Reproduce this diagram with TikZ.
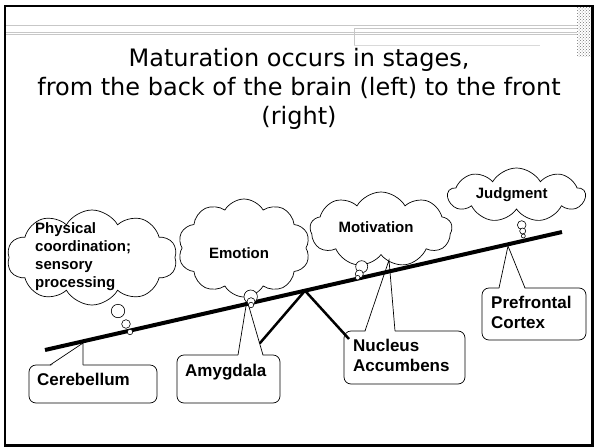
\documentclass[tikz,border=0pt]{standalone}
\usepackage{fontspec}
\setmainfont{Liberation Sans}
\newfontfamily\titlefont{DejaVu Sans}
\usetikzlibrary{shapes.symbols,patterns}

\tikzset{
  thought/.style={cloud, draw, cloud puffs=10, cloud puff arc=120, cloud ignores aspect,
    inner sep=0pt, line width=0.7pt},
  bubble/.style={circle, draw, fill=white, inner sep=0pt, line width=0.6pt},
  calloutbox/.style={draw, rounded corners=7pt, fill=white, line width=0.7pt, inner sep=0pt},
  cloudtext/.style={font=\bfseries\fontsize{15}{18}\selectfont, inner sep=0pt, align=left},
  labeltext/.style={font=\bfseries\fontsize{17}{20}\selectfont, inner sep=0pt, align=left},
  beam/.style={line width=4pt},
  leg/.style={line width=2.5pt},
  pointer/.style={line width=0.7pt},
  deco/.style={draw=black!22, line width=0.8pt}
}

\begin{document}
\begin{tikzpicture}[x=1pt,y=-1pt]
\useasboundingbox (0,0) rectangle (594,447);

% slide template trim
\draw[deco] (6,25) -- (577,25);
\draw[deco] (6,32) -- (577,32);
\draw[deco] (6,34.5) -- (577,34.5);
\draw[deco] (354,45) -- (354,28) -- (577,28);
\draw[draw=black!15, line width=0.8pt] (354,45) -- (540,45);
\fill[pattern=crosshatch dots, pattern color=black!55] (577,7) rectangle (592,56);

% slide frame
\draw[line width=2.2pt] (5,6) rectangle (592.5,445.5);

% title
\node[font=\titlefont\fontsize{24}{29}\selectfont, align=center, inner sep=0pt, anchor=north]
  (title) at (299,48.5)
  {Maturation occurs in stages,\\from the back of the brain (left) to the front\\(right)};

% pivot of the see-saw
\coordinate (pivot) at (305,290.7);
\coordinate (footL) at (259.7,343.4);
\coordinate (footR) at (349,339);

% callout: Cerebellum
\node[calloutbox, minimum width=128pt, minimum height=38pt] (cerebBox) at (93,384) {};
\coordinate (cerebTip) at (83,343);
\coordinate (cerebL) at (50,365);
\coordinate (cerebR) at (83,365);
\fill[white] (cerebTip) -- ([yshift=-1.5pt]cerebL) -- ([yshift=-1.5pt]cerebR) -- cycle;
\draw[pointer] (cerebL) -- (cerebTip) -- (cerebR);
\node[labeltext, anchor=base west] (cerebText) at (37,385.5) {Cerebellum};

% callout: Amygdala
\node[calloutbox, minimum width=103pt, minimum height=48pt] (amygBox) at (228.5,379) {};
\coordinate (amygTip) at (247,300);
\coordinate (amygL) at (238,355);
\coordinate (amygR) at (263,355);
\fill[white] (amygTip) -- ([yshift=-1.5pt]amygL) -- ([yshift=-1.5pt]amygR) -- cycle;
\draw[pointer] (amygL) -- (amygTip) -- (amygR);
\node[labeltext, anchor=base west] (amygText) at (185,376) {Amygdala};

% callout: Nucleus Accumbens
\node[calloutbox, minimum width=121pt, minimum height=53pt] (nuclBox) at (404.5,357.5) {};
\coordinate (nuclTip) at (389,260);
\coordinate (nuclL) at (365,331);
\coordinate (nuclR) at (395,331);
\fill[white] (nuclTip) -- ([yshift=-1.5pt]nuclL) -- ([yshift=-1.5pt]nuclR) -- cycle;
\draw[pointer] (nuclL) -- (nuclTip) -- (nuclR);
\node[labeltext, anchor=north west] (nuclText) at (353,339) {Nucleus\\Accumbens};

% callout: Prefrontal Cortex
\node[calloutbox, minimum width=104pt, minimum height=52pt] (pfcBox) at (534,314) {};
\coordinate (pfcTip) at (508,246);
\coordinate (pfcL) at (499,288);
\coordinate (pfcR) at (525,288);
\fill[white] (pfcTip) -- ([yshift=-1.5pt]pfcL) -- ([yshift=-1.5pt]pfcR) -- cycle;
\draw[pointer] (pfcL) -- (pfcTip) -- (pfcR);
\node[labeltext, anchor=north west] (pfcText) at (491,295.5) {Prefrontal\\Cortex};

% see-saw
\draw[leg] (footL) -- (pivot) -- (footR);
\coordinate (beamL) at (45,350);
\coordinate (beamR) at (562,232);
\draw[beam] (beamL) -- (beamR);

% thought clouds
\node[thought, minimum width=170pt, minimum height=95pt] (physCloud) at (92,257.5) {};
\node[cloudtext, anchor=north west] (physText) at (35,222.5)
  {Physical\\coordination;\\sensory\\processing};

\node[thought, minimum width=132pt, minimum height=98pt] (emoCloud) at (244,248) {};
\node[cloudtext, anchor=base] (emoText) at (239,258.3) {Emotion};

\node[thought, cloud puffs=9, minimum width=142pt, minimum height=75pt] (motCloud) at (381,229.5) {};
\node[cloudtext, anchor=base] (motText) at (376,232.7) {Motivation};

\node[thought, cloud puffs=9, minimum width=137pt, minimum height=54pt] (judCloud) at (516.5,195) {};
\node[cloudtext, anchor=base] (judText) at (511.7,198.3) {Judgment};

% thought bubbles
\node[bubble, minimum size=13.4pt] (physB1) at (118,311) {};
\node[bubble, minimum size=8.6pt] (physB2) at (126,324) {};
\node[bubble, minimum size=5.4pt] (physB3) at (130,332) {};

\node[bubble, minimum size=13.4pt] (emoB1) at (250.7,296.7) {};
\node[bubble, minimum size=8pt] (emoB2) at (251,301.7) {};
\node[bubble, minimum size=5.4pt] (emoB3) at (251,305) {};

\node[bubble, minimum size=12pt] (motB1) at (361.7,266.7) {};
\node[bubble, minimum size=8pt] (motB2) at (359.3,274) {};
\node[bubble, minimum size=4.6pt] (motB3) at (357.7,277.7) {};

\node[bubble, minimum size=8.6pt] (judB1) at (521.7,225) {};
\node[bubble, minimum size=6pt] (judB2) at (522.7,231) {};
\node[bubble, minimum size=4pt] (judB3) at (523.3,236) {};
\end{tikzpicture}
\end{document}
